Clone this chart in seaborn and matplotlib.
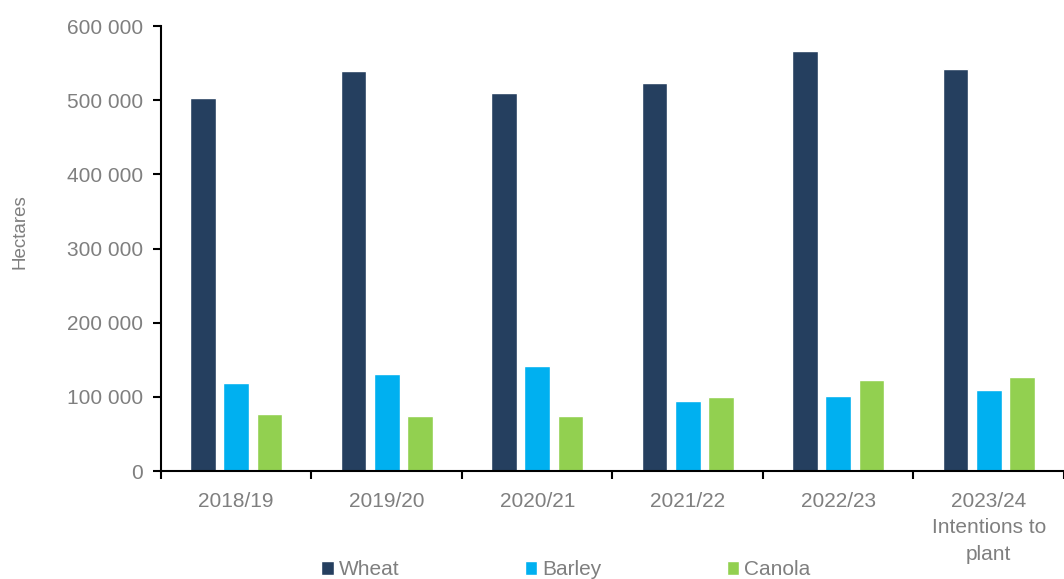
import numpy as np
import pandas as pd
import matplotlib
matplotlib.use("Agg")
import matplotlib.pyplot as plt
import seaborn as sns

# data
seasons = ["2018/19", "2019/20", "2020/21", "2021/22", "2022/23", "2023/24\nIntentions to\nplant"]
wheat = [503000, 540000, 510000, 523000, 566000, 542000]
barley = [119000, 131000, 141000, 94500, 101000, 109000]
canola = [77000, 74000, 74000, 100000, 123000, 127000]
crops = ["Wheat", "Barley", "Canola"]
colors = ["#253F5F", "#00B0F0", "#92D050"]

df = pd.DataFrame({
    "season": seasons * 3,
    "crop": [c for c in crops for _ in seasons],
    "ha": wheat + barley + canola,
})

sns.set_style("white")
plt.rcParams["font.family"] = ["Liberation Sans", "DejaVu Sans"]
grey = "#7F7F7F"
fs = 15

fig = plt.figure(figsize=(10.64, 5.79), dpi=100)
ax = fig.add_axes([0.1513, 0.1865, 0.8487, 0.7685])

sns.barplot(data=df, x="season", y="ha", hue="crop", hue_order=crops,
            palette=colors, width=0.663, gap=0.22, saturation=1,
            errorbar=None, ax=ax, legend=True)

ax.set_ylim(0, 600000)
ax.set_xlim(-0.5, len(seasons) - 0.5)
yt = np.arange(0, 600001, 100000)
ax.set_yticks(yt)
ax.set_yticklabels(["0" if v == 0 else f"{v // 1000} 000" for v in yt])

# category boundaries as ticks, labels centred
ax.set_xticks(np.arange(-0.5, len(seasons), 1.0))
ax.set_xticklabels([])
ax.set_xticks(np.arange(len(seasons)), minor=True)
ax.set_xticklabels(seasons, minor=True, linespacing=1.5)
ax.tick_params(axis="x", which="major", direction="out", length=6, width=1.5, color="black")
ax.tick_params(axis="x", which="minor", length=0, pad=15, labelsize=fs, labelcolor=grey)
ax.tick_params(axis="y", direction="out", length=6, width=1.5, color="black",
               pad=7, labelsize=fs, labelcolor=grey)
ax.tick_params(left=True, bottom=True)

for s in ["top", "right"]:
    ax.spines[s].set_visible(False)
for s in ["left", "bottom"]:
    ax.spines[s].set_color("black")
    ax.spines[s].set_linewidth(1.5)

ax.set_xlabel("")
ax.set_ylabel("")
fig.text(0.019, 0.60, "Hectares", rotation=90, ha="center", va="center",
         fontsize=13.5, color=grey)

handles, labels = ax.get_legend_handles_labels()
ax.get_legend().remove()
leg = fig.legend(handles, labels, loc="center", bbox_to_anchor=(0.532, 0.016),
                 ncol=3, frameon=False, fontsize=fs, handlelength=0.6,
                 handleheight=0.6, handletextpad=0.25, columnspacing=6.0,
                 borderpad=0, borderaxespad=0)
for t in leg.get_texts():
    t.set_color(grey)

fig.savefig("out.png", dpi=100)
